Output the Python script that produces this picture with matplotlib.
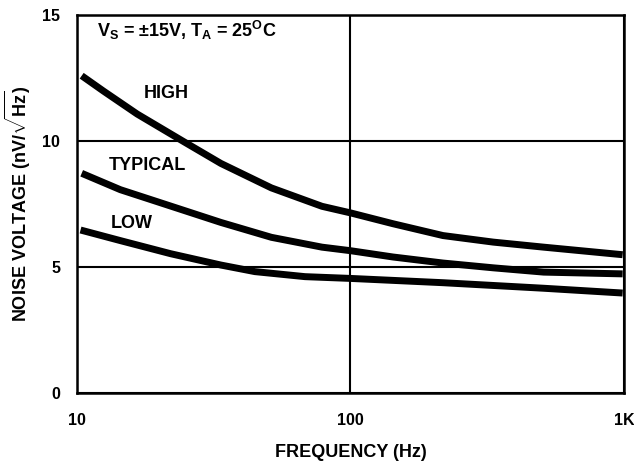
import matplotlib.pyplot as plt
import numpy as np

plt.rcParams['font.family'] = ['Liberation Sans', 'DejaVu Sans']
plt.rcParams['font.weight'] = 'bold'
plt.rcParams['mathtext.fontset'] = 'custom'
plt.rcParams['mathtext.rm'] = 'Liberation Sans:bold'
plt.rcParams['mathtext.bf'] = 'Liberation Sans:bold'

# noise voltage curves
freq_high = [10.4, 12.5, 16.6, 24.7, 33.6, 51.4, 78.7, 100, 143, 218, 333, 509, 990]
high = [12.59, 11.98, 11.07, 9.96, 9.11, 8.14, 7.41, 7.15, 6.72, 6.25, 5.99, 5.79, 5.49]

freq_typ = [10.4, 14.4, 22.0, 33.6, 51.4, 78.7, 100, 143, 218, 333, 509, 990]
typical = [8.72, 8.07, 7.42, 6.77, 6.18, 5.79, 5.65, 5.40, 5.16, 4.97, 4.80, 4.73]

freq_low = [10.3, 14.4, 22.0, 33.6, 44.7, 68.2, 100, 218, 509, 990]
low = [6.47, 6.05, 5.53, 5.08, 4.82, 4.62, 4.55, 4.38, 4.16, 3.97]

xticks = [10, 100, 1000]
xticklabels = ['10', '100', '1K']
yticks = [0, 5, 10, 15]

fig = plt.figure(figsize=(6.34, 4.68), dpi=100)
ax = fig.add_axes([0.1215, 0.160, 0.8625, 0.808])

for f, v in [(freq_high, high), (freq_typ, typical), (freq_low, low)]:
    ax.plot(f, v, color='black', lw=5, solid_capstyle='butt',
            solid_joinstyle='round', zorder=3)

ax.set_xscale('log')
ax.set_xlim(10, 1000)
ax.set_ylim(0, 15)
ax.set_xticks(xticks)
ax.set_xticklabels(xticklabels)
ax.set_yticks(yticks)
ax.minorticks_off()
ax.tick_params(length=0, labelsize=11.5, pad=12)
ax.tick_params(axis='x', pad=14)
ax.grid(True, color='black', lw=1.5)
for s in ax.spines.values():
    s.set_linewidth(1.8)

ax.set_xlabel('FREQUENCY (Hz)', fontsize=13, fontweight='bold', labelpad=12)
ax.set_ylabel(r'NOISE VOLTAGE (nV/$\sqrt{\mathrm{Hz}}$)', fontsize=13,
              fontweight='bold', labelpad=7)

ax.text(11.85, 14.12, r'V$_\mathrm{S}$ = $\pm$15V, T$_\mathrm{A}$ = 25$^\mathrm{O}$C',
        fontsize=13, fontweight='bold', va='baseline', ha='left')
ax.text(17.5, 11.72, 'HIGH', fontsize=13, fontweight='bold', va='baseline')
ax.text(13.04, 8.85, 'TYPICAL', fontsize=13, fontweight='bold', va='baseline')
ax.text(13.3, 6.55, 'LOW', fontsize=13, fontweight='bold', va='baseline')

fig.savefig('out.png', dpi=100)
